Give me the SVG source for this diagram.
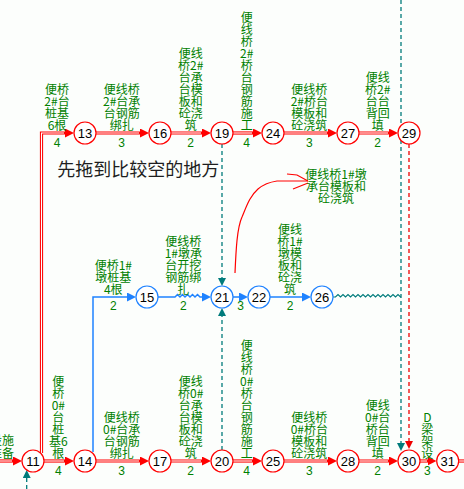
<svg xmlns="http://www.w3.org/2000/svg" width="464" height="489" viewBox="0 0 464 489">
<style>
.bg{fill:#fcfefc}
.nr{fill:#fff;stroke:#f00;stroke-width:1.2}
.nb{fill:#fff;stroke:#1e82ff;stroke-width:1.2}
.nt{font-family:"Liberation Sans",Arial,sans-serif;font-size:13px;fill:#000;text-anchor:middle}
.r{fill:none;stroke:#f00;stroke-width:3.2;marker-end:url(#ar)}
.r0{fill:none;stroke:#f00;stroke-width:3.2}
.w{fill:none;stroke:#fff;stroke-width:1.1}
.b{fill:none;stroke:#1e82ff;stroke-width:1.5;marker-end:url(#ab)}
.tz{fill:none;stroke:#007b7b;stroke-width:1.2}
.td{fill:none;stroke:#007b7b;stroke-width:1.3;stroke-dasharray:4,3;marker-end:url(#at)}
.rd{fill:none;stroke:#e00;stroke-width:1.3;stroke-dasharray:4,3;marker-end:url(#ar2)}
.lb{font-family:"Noto Sans CJK SC","Noto Sans CJK JP",sans-serif;font-size:12px;fill:#008000;text-anchor:middle}
.nm{font-family:"Liberation Sans",Arial,sans-serif;font-size:12px;fill:#008000;text-anchor:middle}
.note{font-family:"Noto Sans CJK SC","Noto Sans CJK JP",sans-serif;font-size:18px;fill:#1e1e1e;text-anchor:middle}
.hand{fill:none;stroke:#f00;stroke-width:1.2}
</style>
<defs>
<marker id="ar" markerUnits="userSpaceOnUse" markerWidth="10" markerHeight="9" refX="4" refY="4.5" orient="auto"><path d="M0,0 L9,4.5 L0,9 z" fill="#f00"/></marker>
<marker id="ar2" markerUnits="userSpaceOnUse" markerWidth="9" markerHeight="9" refX="3" refY="4" orient="auto"><path d="M0,0 L8,4 L0,8 z" fill="#e00"/></marker>
<marker id="ab" markerUnits="userSpaceOnUse" markerWidth="10" markerHeight="9" refX="4" refY="4.5" orient="auto"><path d="M0,0 L9,4.5 L0,9 z" fill="#1e82ff"/></marker>
<marker id="at" markerUnits="userSpaceOnUse" markerWidth="9" markerHeight="9" refX="3" refY="4" orient="auto"><path d="M0,0 L8,4 L0,8 z" fill="#007b7b"/></marker>
</defs>
<rect class="bg" x="0" y="0" width="464" height="489"/>

<g id="connectors">
<!-- red critical path -->
<path class="r" d="M0,461 H17"/><path class="w" d="M0,461 H12"/>
<path class="r" d="M41.5,453 V133 H69"/><path class="w" d="M41.5,453 V133 H64"/>
<path class="r" d="M96,133 H144"/><path class="w" d="M96,133 H139"/>
<path class="r" d="M171,133 H206"/><path class="w" d="M171,133 H201"/>
<path class="r" d="M233,133 H257"/><path class="w" d="M233,133 H252"/>
<path class="r" d="M284,133 H332"/><path class="w" d="M284,133 H327"/>
<path class="r" d="M359,133 H393"/><path class="w" d="M359,133 H388"/>
<path class="r" d="M44,461 H69"/><path class="w" d="M44,461 H64"/>
<path class="r" d="M96,461 H144"/><path class="w" d="M96,461 H139"/>
<path class="r" d="M171,461 H206"/><path class="w" d="M171,461 H201"/>
<path class="r" d="M233,461 H257"/><path class="w" d="M233,461 H252"/>
<path class="r" d="M284,461 H332"/><path class="w" d="M284,461 H327"/>
<path class="r" d="M359,461 H393"/><path class="w" d="M359,461 H388"/>
<path class="r" d="M420,461 H431.5"/><path class="w" d="M420,461 H427"/>
<path class="r0" d="M458.7,461 H464"/><path class="w" d="M458.7,461 H464"/>
<!-- blue branch -->
<path class="b" d="M93,452 V297 H131"/>
<path class="b" d="M158,297 H175 l2.5,-2.5 2.5,2.5 2.5,-2.5 2.5,2.5 2.5,-2.5 2.5,2.5 2.5,-2.5 2.5,2.5 2.5,-2.5 2.5,2.5 H206"/>
<path class="b" d="M233,297 H243"/>
<path class="b" d="M270,297 H306"/>
<!-- teal free float and dummies -->
<path class="tz" d="M333,297 H335.5 l2.5,-2.5 2.5,2.5 2.5,-2.5 2.5,2.5 2.5,-2.5 2.5,2.5 2.5,-2.5 2.5,2.5 2.5,-2.5 2.5,2.5 2.5,-2.5 2.5,2.5 2.5,-2.5 2.5,2.5 2.5,-2.5 2.5,2.5 2.5,-2.5 2.5,2.5 2.5,-2.5 2.5,2.5 2.5,-2.5 2.5,2.5 2.5,-2.5 2.5,2.5 2.5,-2.5 2.5,2.5 H401"/>
<path class="td" d="M222,144 V281"/>
<path class="td" d="M222,450 V313"/>
<path class="td" d="M401,0 V446"/>
<path class="td" d="M26.7,489 V475"/>
<path class="rd" d="M409,144 V444"/>
<!-- hand-drawn annotation arrow -->
<path class="hand" d="M235,273 C236,250 237,228 242,217 C247,205 250,196 258,189 C264,184 270,182 277,181 H308"/>
<path class="hand" d="M287,174 L297,175 L308,181 M293,189 L308,183"/>
</g>

<g id="labels">
<text class="lb" x="57" y="93.5"><tspan x="57">便桥</tspan><tspan x="57" dy="12">2#台</tspan><tspan x="57" dy="12">桩基</tspan><tspan x="57" dy="12">6根</tspan></text>
<text class="lb" x="121.7" y="93.5"><tspan x="121.7">便线桥</tspan><tspan x="121.7" dy="12">2#台承</tspan><tspan x="121.7" dy="12">台钢筋</tspan><tspan x="121.7" dy="12">绑扎</tspan></text>
<text class="lb" x="190.7" y="57.5"><tspan x="190.7">便线</tspan><tspan x="190.7" dy="12">桥2#</tspan><tspan x="190.7" dy="12">台承</tspan><tspan x="190.7" dy="12">台模</tspan><tspan x="190.7" dy="12">板和</tspan><tspan x="190.7" dy="12">砼浇</tspan><tspan x="190.7" dy="12">筑</tspan></text>
<text class="lb" x="246.7" y="21.5"><tspan x="246.7">便</tspan><tspan x="246.7" dy="12">线</tspan><tspan x="246.7" dy="12">桥</tspan><tspan x="246.7" dy="12">2#</tspan><tspan x="246.7" dy="12">桥</tspan><tspan x="246.7" dy="12">台</tspan><tspan x="246.7" dy="12">钢</tspan><tspan x="246.7" dy="12">筋</tspan><tspan x="246.7" dy="12">施</tspan><tspan x="246.7" dy="12">工</tspan></text>
<text class="lb" x="309.3" y="93.5"><tspan x="309.3">便线桥</tspan><tspan x="309.3" dy="12">2#桥台</tspan><tspan x="309.3" dy="12">模板和</tspan><tspan x="309.3" dy="12">砼浇筑</tspan></text>
<text class="lb" x="377.7" y="81.5"><tspan x="377.7">便线</tspan><tspan x="377.7" dy="12">桥2#</tspan><tspan x="377.7" dy="12">台台</tspan><tspan x="377.7" dy="12">背回</tspan><tspan x="377.7" dy="12">填</tspan></text>
<text class="nm" x="57" y="147">4</text>
<text class="nm" x="121.7" y="147">3</text>
<text class="nm" x="190.7" y="147">2</text>
<text class="nm" x="246.7" y="147">4</text>
<text class="nm" x="309.3" y="147">3</text>
<text class="nm" x="377.7" y="147">2</text>

<text class="lb" x="113.3" y="269.5"><tspan x="113.3">便桥1#</tspan><tspan x="113.3" dy="12">墩桩基</tspan><tspan x="113.3" dy="12">4根</tspan></text>
<text class="lb" x="183.3" y="245.5"><tspan x="183.3">便线桥</tspan><tspan x="183.3" dy="12">1#墩承</tspan><tspan x="183.3" dy="12">台开挖</tspan><tspan x="183.3" dy="12">钢筋绑</tspan><tspan x="183.3" dy="12">扎</tspan></text>
<text class="lb" x="290" y="233.5"><tspan x="290">便线</tspan><tspan x="290" dy="12">桥1#</tspan><tspan x="290" dy="12">墩模</tspan><tspan x="290" dy="12">板和</tspan><tspan x="290" dy="12">砼浇</tspan><tspan x="290" dy="12">筑</tspan></text>
<text class="nm" x="113.3" y="310">2</text>
<text class="nm" x="183.3" y="310">2</text>
<text class="nm" x="240.7" y="310">3</text>
<text class="nm" x="290" y="310">2</text>

<text class="lb" x="58.3" y="385.5"><tspan x="58.3">便</tspan><tspan x="58.3" dy="12">桥</tspan><tspan x="58.3" dy="12">0#</tspan><tspan x="58.3" dy="12">台</tspan><tspan x="58.3" dy="12">桩</tspan><tspan x="58.3" dy="12">基6</tspan><tspan x="58.3" dy="12">根</tspan></text>
<text class="lb" x="121.7" y="421.5"><tspan x="121.7">便线桥</tspan><tspan x="121.7" dy="12">0#台承</tspan><tspan x="121.7" dy="12">台钢筋</tspan><tspan x="121.7" dy="12">绑扎</tspan></text>
<text class="lb" x="190.7" y="385.5"><tspan x="190.7">便线</tspan><tspan x="190.7" dy="12">桥0#</tspan><tspan x="190.7" dy="12">台承</tspan><tspan x="190.7" dy="12">台模</tspan><tspan x="190.7" dy="12">板和</tspan><tspan x="190.7" dy="12">砼浇</tspan><tspan x="190.7" dy="12">筑</tspan></text>
<text class="lb" x="246.7" y="349.5"><tspan x="246.7">便</tspan><tspan x="246.7" dy="12">线</tspan><tspan x="246.7" dy="12">桥</tspan><tspan x="246.7" dy="12">0#</tspan><tspan x="246.7" dy="12">桥</tspan><tspan x="246.7" dy="12">台</tspan><tspan x="246.7" dy="12">钢</tspan><tspan x="246.7" dy="12">筋</tspan><tspan x="246.7" dy="12">施</tspan><tspan x="246.7" dy="12">工</tspan></text>
<text class="lb" x="309.3" y="421.5"><tspan x="309.3">便线桥</tspan><tspan x="309.3" dy="12">0#桥台</tspan><tspan x="309.3" dy="12">模板和</tspan><tspan x="309.3" dy="12">砼浇筑</tspan></text>
<text class="lb" x="377.7" y="409.5"><tspan x="377.7">便线</tspan><tspan x="377.7" dy="12">0#台</tspan><tspan x="377.7" dy="12">桥台</tspan><tspan x="377.7" dy="12">背回</tspan><tspan x="377.7" dy="12">填</tspan></text>
<text class="lb" x="427.3" y="421.5"><tspan x="427.3">D</tspan><tspan x="427.3" dy="12">梁</tspan><tspan x="427.3" dy="12">架</tspan><tspan x="427.3" dy="12">设</tspan></text>
<text class="lb" x="14" y="445" style="text-anchor:end"><tspan x="14">设施</tspan><tspan x="14" dy="12.5">准备</tspan></text>
<text class="nm" x="58.3" y="475">4</text>
<text class="nm" x="121.7" y="475">3</text>
<text class="nm" x="190.7" y="475">2</text>
<text class="nm" x="246.7" y="475">4</text>
<text class="nm" x="309.3" y="475">3</text>
<text class="nm" x="377.7" y="475">2</text>
<text class="nm" x="427.3" y="475">3</text>

<text class="lb" x="336" y="178.5"><tspan x="336">便线桥1#墩</tspan><tspan x="336" dy="12">承台模板和</tspan><tspan x="336" dy="12">砼浇筑</tspan></text>
<text class="note" x="138.3" y="176">先拖到比较空的地方</text>
</g>

<g id="node-11"><circle class="nr" cx="33" cy="461" r="11"/><text class="nt" x="33" y="465.5">11</text></g>
<g id="node-13"><circle class="nr" cx="85" cy="133" r="11"/><text class="nt" x="85" y="137.5">13</text></g>
<g id="node-14"><circle class="nr" cx="85" cy="461" r="11"/><text class="nt" x="85" y="465.5">14</text></g>
<g id="node-15"><circle class="nb" cx="147" cy="297" r="11"/><text class="nt" x="147" y="301.5">15</text></g>
<g id="node-16"><circle class="nr" cx="160" cy="133" r="11"/><text class="nt" x="160" y="137.5">16</text></g>
<g id="node-17"><circle class="nr" cx="160" cy="461" r="11"/><text class="nt" x="160" y="465.5">17</text></g>
<g id="node-19"><circle class="nr" cx="222" cy="133" r="11"/><text class="nt" x="222" y="137.5">19</text></g>
<g id="node-20"><circle class="nr" cx="222" cy="461" r="11"/><text class="nt" x="222" y="465.5">20</text></g>
<g id="node-21"><circle class="nb" cx="222" cy="297" r="11"/><text class="nt" x="222" y="301.5">21</text></g>
<g id="node-22"><circle class="nb" cx="259" cy="297" r="11"/><text class="nt" x="259" y="301.5">22</text></g>
<g id="node-24"><circle class="nr" cx="273" cy="133" r="11"/><text class="nt" x="273" y="137.5">24</text></g>
<g id="node-25"><circle class="nr" cx="273" cy="461" r="11"/><text class="nt" x="273" y="465.5">25</text></g>
<g id="node-26"><circle class="nb" cx="322" cy="297" r="11"/><text class="nt" x="322" y="301.5">26</text></g>
<g id="node-27"><circle class="nr" cx="348" cy="133" r="11"/><text class="nt" x="348" y="137.5">27</text></g>
<g id="node-28"><circle class="nr" cx="348" cy="461" r="11"/><text class="nt" x="348" y="465.5">28</text></g>
<g id="node-29"><circle class="nr" cx="409" cy="133" r="11"/><text class="nt" x="409" y="137.5">29</text></g>
<g id="node-30"><circle class="nr" cx="409" cy="461" r="11"/><text class="nt" x="409" y="465.5">30</text></g>
<g id="node-31"><circle class="nr" cx="447.7" cy="461" r="11"/><text class="nt" x="447.7" y="465.5">31</text></g>
</svg>
